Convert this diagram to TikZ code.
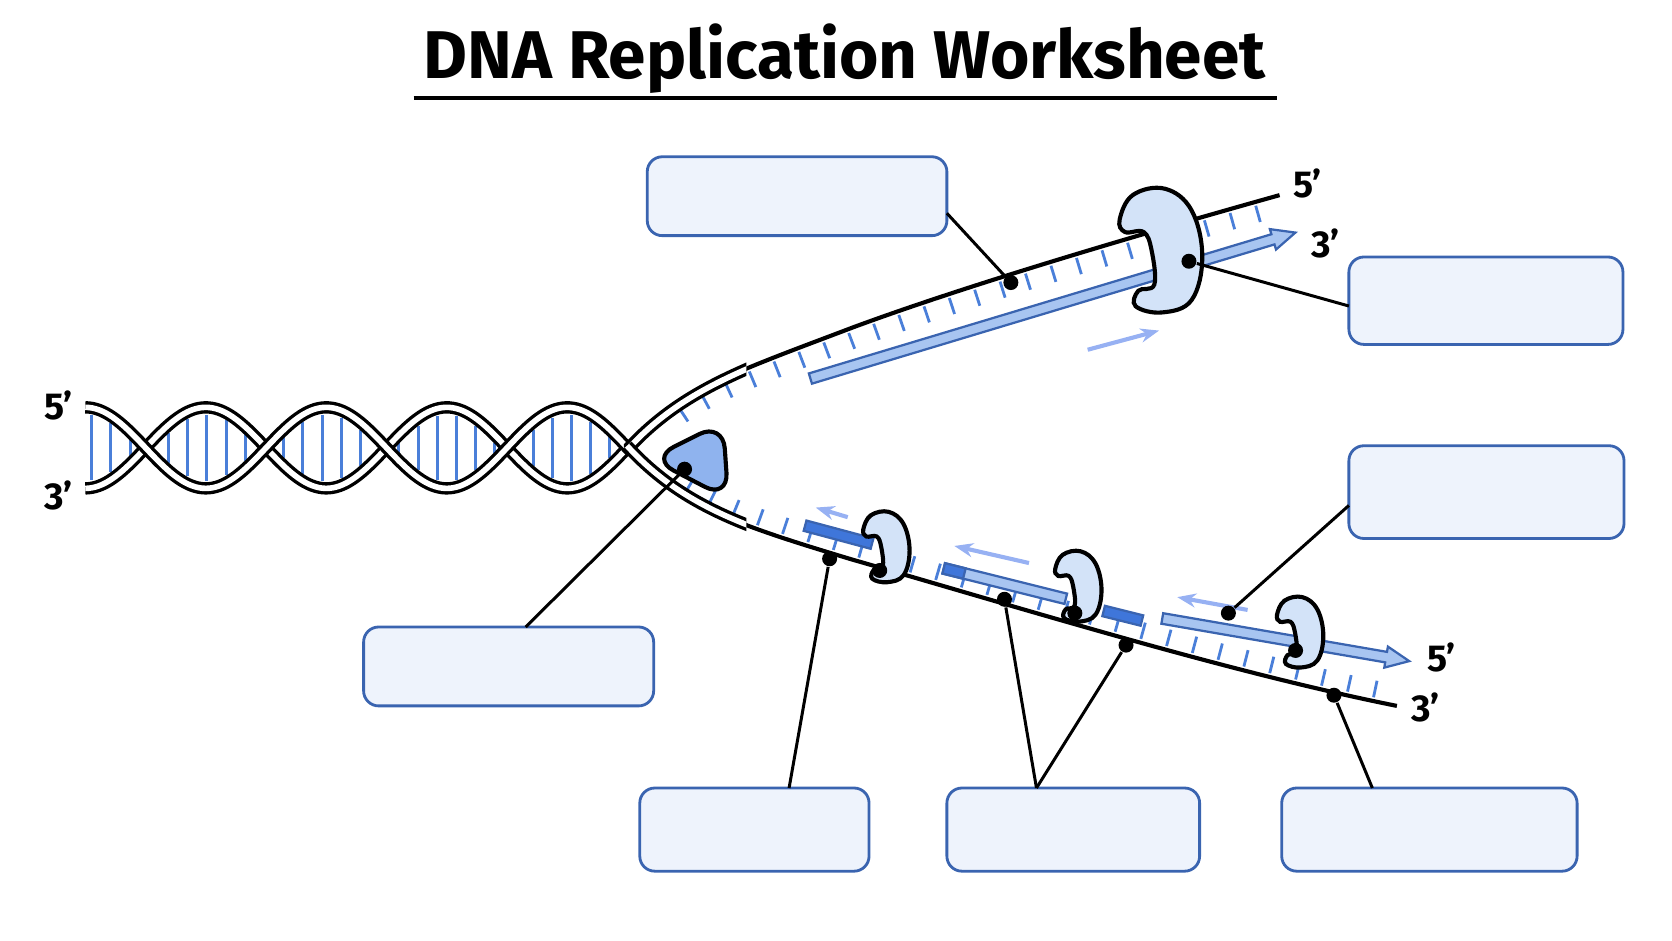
\documentclass[tikz,border=0pt]{standalone}
\usepackage{fontspec}
\setmainfont{Fira Sans}
\usetikzlibrary{decorations.markings,arrows.meta}
\definecolor{outl}{HTML}{3A64B0}
\definecolor{tick}{HTML}{4A7FD9}
\definecolor{lightb}{HTML}{A8C5F1}
\definecolor{darkb}{HTML}{3F76DA}
\definecolor{heli}{HTML}{8FB3EE}
\definecolor{polf}{HTML}{D3E3F8}
\definecolor{boxf}{HTML}{EEF3FC}
\newcommand\fatarr[5]{\begin{scope}[shift={(#1,#2)},rotate=#3]\filldraw[fill=#5,draw=outl,line width=0.6pt] (0,-5)--(#4-22,-5)--(#4-22,-10)--(#4,0)--(#4-22,10)--(#4-22,5)--(0,5)--cycle;\end{scope}}
\newcommand\fatbar[5]{\begin{scope}[shift={(#1,#2)},rotate=#3]\filldraw[fill=#5,draw=outl,line width=0.6pt] (0,-5) rectangle (#4,5);\end{scope}}
\tikzset{
 box/.style={draw=outl,fill=boxf,line width=0.75pt,rounded corners=4pt},
 lead/.style={line width=0.8pt},
 dot/.style={circle,fill=black,inner sep=0pt,minimum size=4pt},
 strand/.style={double=white,double distance=1.5pt,line width=0.9pt},
 arm/.style={line width=1.1pt},
 sarr/.style={lightb!90!blue,line width=1.1pt,-{Stealth[length=5pt]}},
 lbl/.style={font=\fontsize{10}{12}\selectfont\bfseries},
 ticksdown/.style={postaction={decorate,decoration={markings,mark=between positions 0.07 and 0.98 step 0.25cm with {\draw[tick,line width=0.75pt] (0,-1pt)--(0,-5.5pt);}}}},
 ticksup/.style={postaction={decorate,decoration={markings,mark=between positions 0.07 and 0.99 step 0.25cm with {\draw[tick,line width=0.75pt] (0,1pt)--(0,5.5pt);}}}},
 pol/.pic={\draw[fill=polf,line width=1.1pt] plot[smooth cycle,tension=0.65] coordinates {(-0.8,-0.5)(-0.55,-0.9)(0.05,-1)(0.55,-0.65)(0.75,0.1)(0.55,0.8)(0,1)(-0.5,0.9)(-0.45,0.65)(-0.15,0.55)(-0.2,0)(-0.35,-0.3)(-0.7,-0.3)};}
}
\begin{document}
\begin{tikzpicture}[x=0.01cm,y=-0.01cm]
\useasboundingbox (0,0) rectangle (1568,882);
% title
\node[font=\fontsize{18}{22}\selectfont\bfseries] (title) at (792,55) {DNA Replication Worksheet};
\draw[line width=1pt] (388,92) -- (1198,92);
% base pairs
\foreach \x in {86,104,...,584}{
 \pgfmathsetmacro\h{38*abs(cos((\x-80)/113*180))-7}
 \ifdim\h pt>2pt \draw[tick,line width=0.8pt] (\x,420-\h) -- (\x,420+\h);\fi}
% helix
\draw[strand] plot[domain=80:592,samples=160,smooth] (\x,{420+38*cos((\x-80)/113*180)});
\draw[strand] plot[domain=80:592,samples=160,smooth] (\x,{420-38*cos((\x-80)/113*180)});
\node[lbl] (p5a) at (55,380) {5’};
\node[lbl] (p3a) at (55,465) {3’};
% fork arms
\draw[arm,ticksdown] (600,408) .. controls (640,365) and (700,345) .. (800,307) .. controls (900,270) and (1050,225) .. (1200,183);
\draw[arm,ticksup] (600,432) .. controls (640,475) and (700,495) .. (800,525) .. controls (950,568) and (1150,630) .. (1310,662);
\begin{scope}
\clip (585,300) rectangle (700,520);
\draw[strand] (588,422) .. controls (640,365) and (700,345) .. (800,307);
\draw[strand] (588,418) .. controls (640,475) and (700,495) .. (800,525);
\end{scope}
\node[lbl] (u5) at (1226,172) {5’};
\node[lbl] (u3) at (1243,228) {3’};
\node[lbl] (l5) at (1352,617) {5’};
\node[lbl] (l3) at (1337,663) {3’};
% helicase
\draw[fill=heli,line width=1.1pt,rounded corners=7pt] (610,430) -- (678,396) -- (683,468) -- cycle;
\node[dot] (dhel) at (642,440) {};
% leading strand
\fatarr{760}{355}{16.75}{475}{lightb}
\draw[sarr] (1020,328) -- (1087,310);
\pic[xscale=50,yscale=58] at (1090,235) {pol};
\node[dot] (dpol) at (1115,245) {};
\node[dot] (dlead) at (948,265) {};
% lagging strand fragments
\fatbar{755}{493}{-15}{65}{darkb}
\fatbar{885}{533}{-14}{118}{lightb}
\fatbar{885}{533}{-14}{20}{darkb}
\fatbar{1035}{573}{-14}{37}{darkb}
\fatarr{1090}{580}{-9.8}{235}{lightb}
\draw[sarr] (795,485) -- (765,476);
\draw[sarr] (965,528) -- (895,512);
\draw[sarr] (1170,572) -- (1104,560);
\pic[xscale=28,yscale=33] at (832,513) {pol};
\pic[xscale=28,yscale=33] at (1012,550) {pol};
\pic[xscale=28,yscale=33] at (1220,593) {pol};
\node[dot] (dp1) at (825,535) {};
\node[dot] (dp2) at (1008,575) {};
\node[dot] (dp3) at (1215,610) {};
\node[dot] (dfrag) at (1152,575) {};
\node[dot] (dlag1) at (778,524) {};
\node[dot] (dok1) at (942,562) {};
\node[dot] (dok2) at (1056,605) {};
\node[dot] (dtemp) at (1251,652) {};
% boxes
\path[box] (607,147) rectangle (888,221);
\path[box] (1265,241) rectangle (1522,323);
\path[box] (1265,418) rectangle (1523,505);
\path[box] (341,588) rectangle (613,662);
\path[box] (600,739) rectangle (815,817);
\path[box] (888,739) rectangle (1125,817);
\path[box] (1202,739) rectangle (1479,817);
\coordinate (cA) at (888,200);
\coordinate (cB) at (1265,287);
\coordinate (cC) at (1265,474);
\coordinate (cD) at (493,588);
\coordinate (cE) at (740,739);
\coordinate (cF) at (972,739);
\coordinate (cG) at (1287,739);
\draw[lead] (cA) -- (dlead);
\draw[lead] (cB) -- (dpol);
\draw[lead] (cC) -- (dfrag);
\draw[lead] (cD) -- (dhel);
\draw[lead] (cE) -- (dlag1);
\draw[lead] (cF) -- (dok1);
\draw[lead] (cF) -- (dok2);
\draw[lead] (cG) -- (dtemp);
\end{tikzpicture}
\end{document}
